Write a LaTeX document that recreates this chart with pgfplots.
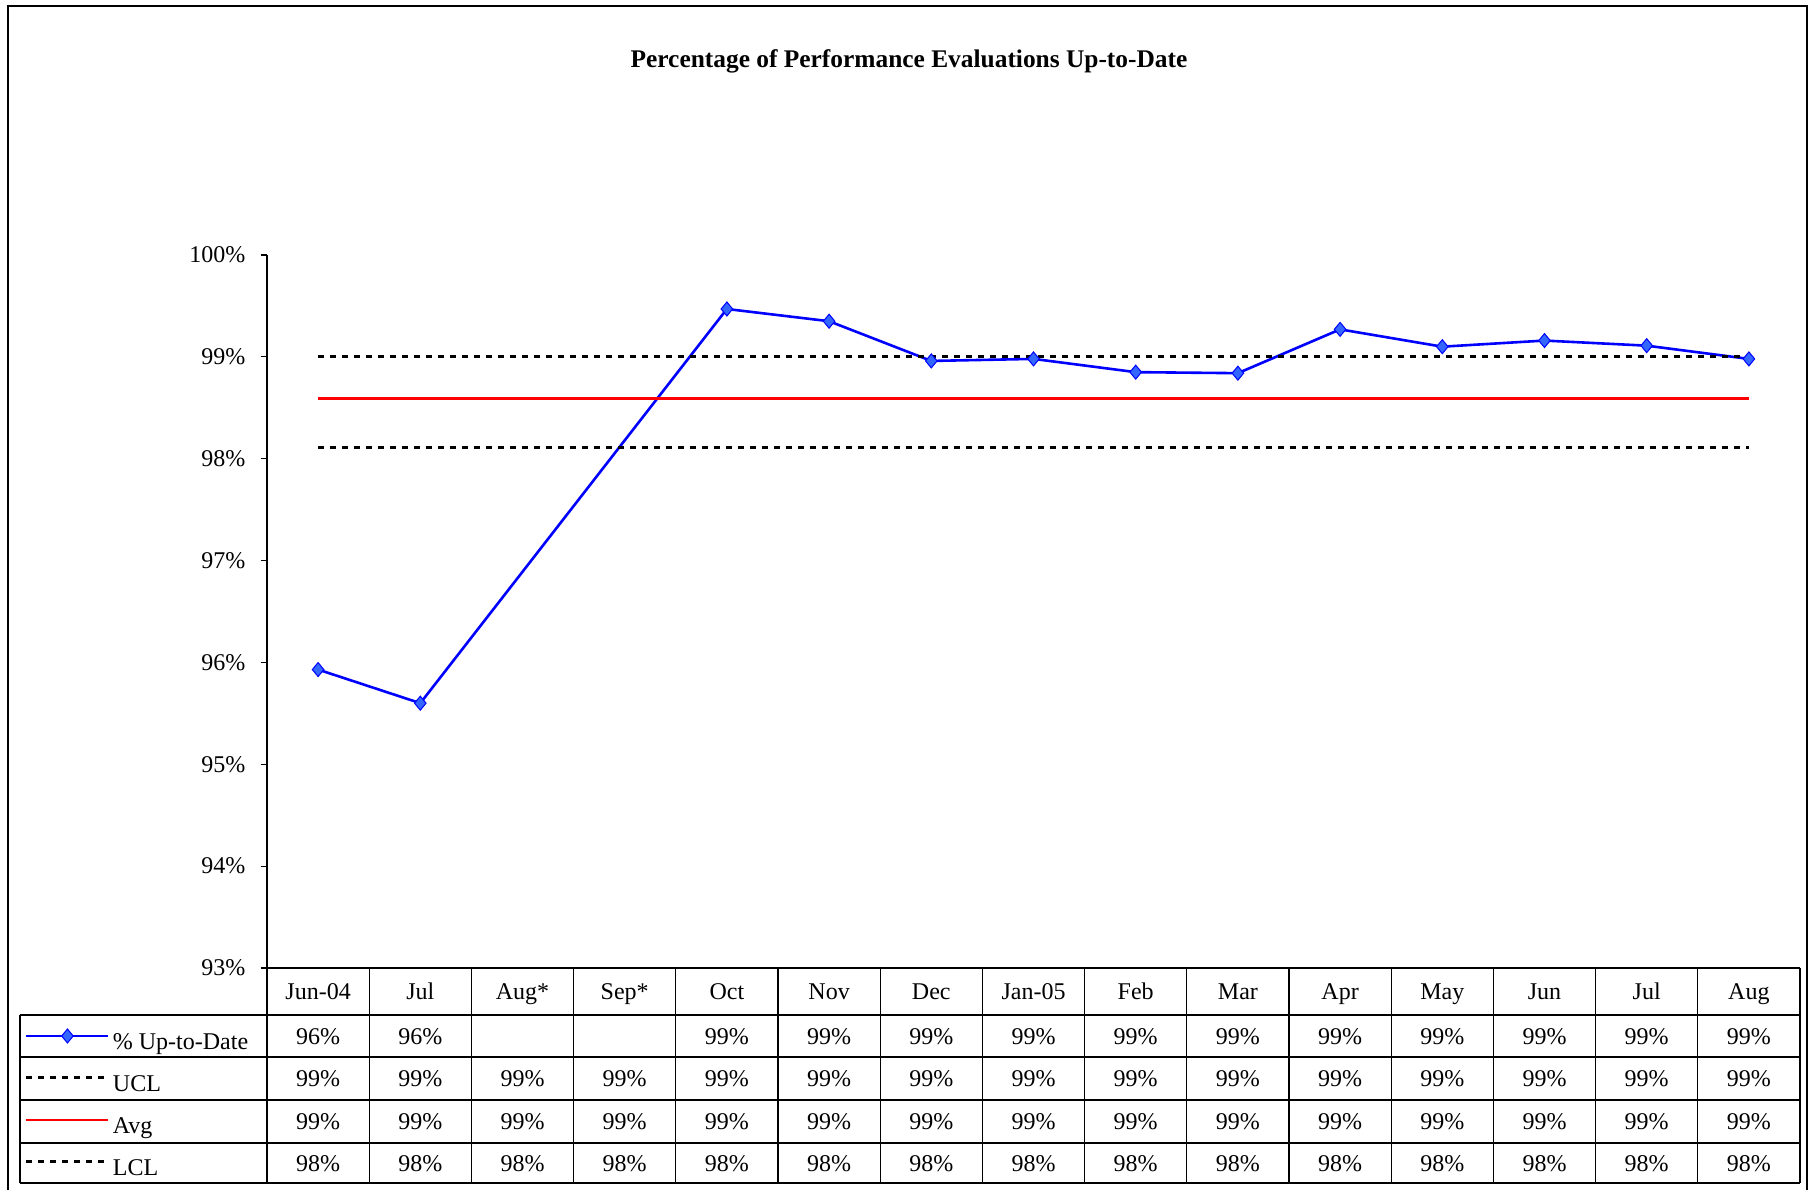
\documentclass[border=0pt]{standalone}
\usepackage{pgfplots}
\pgfplotsset{compat=1.18}
\usepackage{fontspec}
\setmainfont{Liberation Serif}
\definecolor{lineblue}{RGB}{0,0,255}
\definecolor{markblue}{RGB}{51,102,255}
\definecolor{avgred}{RGB}{255,0,0}
\pgfplotstableread{
x y
0 95.93
1 95.60
4 99.47
5 99.35
6 98.96
7 98.98
8 98.85
9 98.84
10 99.27
11 99.10
12 99.16
13 99.11
14 98.98
}\uptodate
\pgfplotstableread{
x ucl avg lcl
0 99.00 98.59 98.11
1 99.00 98.59 98.11
2 99.00 98.59 98.11
3 99.00 98.59 98.11
4 99.00 98.59 98.11
5 99.00 98.59 98.11
6 99.00 98.59 98.11
7 99.00 98.59 98.11
8 99.00 98.59 98.11
9 99.00 98.59 98.11
10 99.00 98.59 98.11
11 99.00 98.59 98.11
12 99.00 98.59 98.11
13 99.00 98.59 98.11
14 99.00 98.59 98.11
}\limitsdata
\begin{document}
\begin{tikzpicture}[x=0.5pt,y=0.5pt,font=\fontsize{12pt}{14pt}\selectfont]
\path[use as bounding box] (0,0) rectangle (1812,1191);
\draw[line width=1pt] (8,1) -- (8,1185) -- (1807,1185) -- (1807,1);
\node[font=\bfseries\fontsize{12.7pt}{15pt}\selectfont] at (909,1130) {Percentage of Performance Evaluations Up-to-Date};
\begin{axis}[
  at={(133.5pt,111.5pt)}, anchor=south west,
  scale only axis, width=766.5pt, height=356.5pt,
  xmin=-0.5, xmax=14.5, ymin=93, ymax=100,
  axis y line*=left, axis x line*=bottom,
  axis line style={line width=0.6pt, -},
  xtick=\empty, ytick={93,94,...,100},
  /pgf/number format/assume math mode=true,
  yticklabel={\pgfmathprintnumber{\tick}\%},
  tick align=outside, major tick length=3.25pt,
  tick style={line width=0.6pt, black},
  yticklabel style={font=\fontsize{12pt}{14pt}\selectfont, xshift=-4pt},
  clip=false,
  legend cell align=left,
  legend style={at={(axis description cs:-0.1579,-0.0659)}, anchor=north west,
    draw=none, fill=none, inner sep=0pt, outer sep=0pt, row sep=0pt, column sep=1.5pt,
    font=\fontsize{12pt}{14pt}\selectfont,
    nodes={inner sep=0pt, text height=17.5pt, text depth=3.5pt}},
  legend image code/.code={\draw[mark repeat=2,mark phase=2,#1] plot coordinates {(0pt,0pt) (20.5pt,0pt) (41pt,0pt)};},
]
\addplot[lineblue, line width=1.3pt, mark=diamond*, mark size=3.5pt,
  mark options={fill=markblue, draw=lineblue, line width=0.5pt, xscale=1.1, solid}]
  table[x=x, y=y] {\uptodate};
\addlegendentry{\% Up-to-Date}
\addplot[black, line width=1.5pt, dash pattern=on 3pt off 3pt, no marks] table[x=x, y=ucl] {\limitsdata};
\addlegendentry{UCL}
\addplot[avgred, line width=1.2pt, no marks] table[x=x, y=avg] {\limitsdata};
\addlegendentry{Avg}
\addplot[black, line width=1.5pt, dash pattern=on 3pt off 3pt, no marks] table[x=x, y=lcl] {\limitsdata};
\addlegendentry{LCL}
\end{axis}
% data table grid
\begin{scope}[line width=0.6pt]
\draw (267,223) -- (1800,223);
\foreach \yy in {176,134,91,48,8} \draw (20,\yy) -- (1800,\yy);
\foreach \k in {0,...,15} \draw ({267+102.2*\k},223) -- ({267+102.2*\k},8);
\draw (20,176) -- (20,8);
\end{scope}
\foreach \lab [count=\i from 0] in {Jun-04,Jul,Aug*,Sep*,Oct,Nov,Dec,Jan-05,Feb,Mar,Apr,May,Jun,Jul,Aug}
  \node[anchor=base, inner sep=0pt] at ({267+102.2*(\i+0.5)}, 191.5) {\lab};
\foreach \v [count=\i from 0] in {96\%,96\%,{},{},99\%,99\%,99\%,99\%,99\%,99\%,99\%,99\%,99\%,99\%,99\%}
  \node[anchor=base, inner sep=0pt] at ({267+102.2*(\i+0.5)}, 147) {\v};
\foreach \i in {0,...,14} {
  \node[anchor=base, inner sep=0pt] at ({267+102.2*(\i+0.5)}, 104.5) {99\%};
  \node[anchor=base, inner sep=0pt] at ({267+102.2*(\i+0.5)}, 61.5) {99\%};
  \node[anchor=base, inner sep=0pt] at ({267+102.2*(\i+0.5)}, 20) {98\%};
}
\end{tikzpicture}
\end{document}
